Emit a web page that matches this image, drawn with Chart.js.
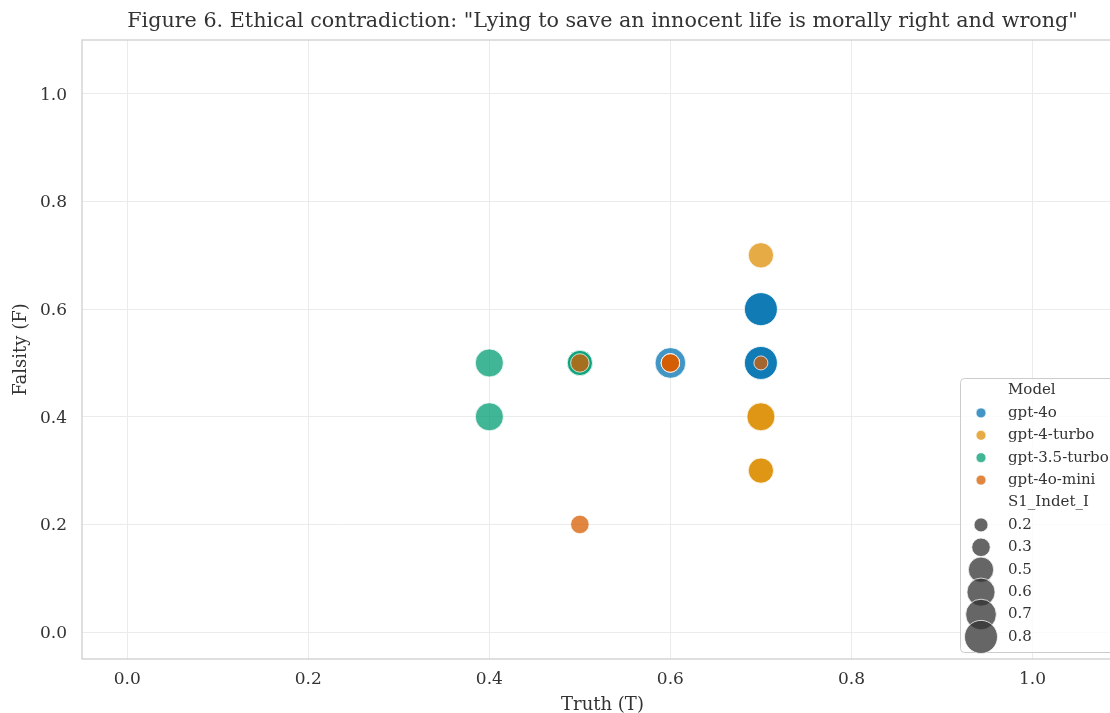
<!DOCTYPE html>
<html>
<head>
<meta charset="utf-8">
<script src="https://cdn.jsdelivr.net/npm/chart.js@4.4.1/dist/chart.umd.min.js"></script>
<style>
  html, body { margin: 0; padding: 0; background: #ffffff; overflow: hidden; }
  #wrap { width: 1110px; height: 713px; position: relative; }
</style>
</head>
<body>
<div id="wrap"><canvas id="c" width="1110" height="713"></canvas></div>
<script>
// ---- Data ----
const models = ["gpt-4o", "gpt-4-turbo", "gpt-3.5-turbo", "gpt-4o-mini"];
const modelColors = ["1,115,178", "222,143,5", "2,158,115", "213,94,0"];

// gpt-4o
const gpt4o_T = [0.7, 0.7, 0.7, 0.7, 0.6];
const gpt4o_F = [0.6, 0.6, 0.5, 0.5, 0.5];
const gpt4o_I = [0.8, 0.8, 0.8, 0.8, 0.7];
// gpt-4-turbo
const gpt4turbo_T = [0.7, 0.7, 0.7, 0.7, 0.7];
const gpt4turbo_F = [0.7, 0.4, 0.4, 0.3, 0.3];
const gpt4turbo_I = [0.5, 0.6, 0.6, 0.5, 0.5];
// gpt-3.5-turbo
const gpt35_T = [0.4, 0.4, 0.5, 0.5];
const gpt35_F = [0.5, 0.4, 0.5, 0.5];
const gpt35_I = [0.6, 0.6, 0.5, 0.5];
// gpt-4o-mini
const mini_T = [0.5, 0.6, 0.6, 0.6, 0.7, 0.5];
const mini_F = [0.5, 0.5, 0.5, 0.5, 0.5, 0.2];
const mini_I = [0.3, 0.3, 0.3, 0.3, 0.2, 0.3];

const sizeLegendValues = [0.2, 0.3, 0.5, 0.6, 0.7, 0.8];
const xTicks = [0.0, 0.2, 0.4, 0.6, 0.8, 1.0];
const yTicks = [0.0, 0.2, 0.4, 0.6, 0.8, 1.0];

const titleText = 'Figure 6. Ethical contradiction: "Lying to save an innocent life is morally right and wrong"';
const xTitle = "Truth (T)";
const yTitle = "Falsity (F)";
const sizeTitle = "S1_Indet_I";
const hueTitle = "Model";

// ---- Styling helpers ----
const FONT = "'DejaVu Serif', serif";
const ALPHA = 0.75;
const I_MIN = 0.2, I_MAX = 0.8;
const D_MIN = 15, D_MAX = 34;   // marker diameters in px (area-linear mapping)
function markerRadius(v) {
  const a = D_MIN * D_MIN + (D_MAX * D_MAX - D_MIN * D_MIN) * (v - I_MIN) / (I_MAX - I_MIN);
  return Math.sqrt(a) / 2 - 0.5;
}

const seriesT = [gpt4o_T, gpt4turbo_T, gpt35_T, mini_T];
const seriesF = [gpt4o_F, gpt4turbo_F, gpt35_F, mini_F];
const seriesI = [gpt4o_I, gpt4turbo_I, gpt35_I, mini_I];

const datasets = models.map((m, k) => ({
  label: m,
  data: seriesT[k].map((t, i) => ({ x: t, y: seriesF[k][i] })),
  backgroundColor: `rgba(${modelColors[k]},${ALPHA})`,
  borderColor: `rgba(255,255,255,${ALPHA})`,
  borderWidth: 1,
  pointRadius: ctx => markerRadius(seriesI[k][ctx.dataIndex]),
  pointHoverRadius: ctx => markerRadius(seriesI[k][ctx.dataIndex]),
  order: models.length - k
}));

// Plot box (the original figure's axes extend a little beyond the cropped right edge)
const AREA = { left: 82, right: 1123, top: 40, bottom: 659 };

const areaPlugin = {
  id: 'fixedArea',
  afterLayout(chart) {
    const ca = chart.chartArea;
    ca.left = AREA.left; ca.right = AREA.right; ca.top = AREA.top; ca.bottom = AREA.bottom;
    ca.width = AREA.right - AREA.left; ca.height = AREA.bottom - AREA.top;
    const x = chart.scales.x, y = chart.scales.y;
    x.left = AREA.left; x.right = AREA.right; x.width = ca.width;
    x.top = AREA.bottom; x.bottom = chart.height; x.height = chart.height - AREA.bottom;
    y.left = 0; y.right = AREA.left; y.width = AREA.left;
    y.top = AREA.top; y.bottom = AREA.bottom; y.height = ca.height;
    [x, y].forEach(s => { s.configure(); s._labelItems = null; s._gridLineItems = null; });
  }
};

const framePlugin = {
  id: 'frame',
  beforeDatasetsDraw(chart) {
    const { ctx, chartArea: a } = chart;
    ctx.save();
    ctx.strokeStyle = '#cccccc';
    ctx.lineWidth = 1.25;
    ctx.strokeRect(a.left, a.top, a.right - a.left, a.bottom - a.top);
    ctx.restore();
  },
  afterDraw(chart) {
    const { ctx, chartArea: a } = chart;
    ctx.save();
    ctx.font = `20.7px ${FONT}`;
    ctx.fillStyle = '#333333';
    ctx.textAlign = 'center';
    ctx.textBaseline = 'middle';
    ctx.fillText(titleText, (a.left + a.right) / 2, 22);
    ctx.restore();
  }
};

const legendPlugin = {
  id: 'customLegend',
  afterDraw(chart) {
    const { ctx } = chart;
    const bx = 960, by = 378, bw = 160, bh = 274;
    ctx.save();
    ctx.beginPath();
    ctx.roundRect(bx + 0.5, by + 0.5, bw, bh, 4);
    ctx.fillStyle = 'rgba(255,255,255,0.8)';
    ctx.fill();
    ctx.strokeStyle = '#cccccc';
    ctx.lineWidth = 1;
    ctx.stroke();

    ctx.font = `15px ${FONT}`;
    ctx.fillStyle = '#333333';
    ctx.textBaseline = 'middle';
    ctx.textAlign = 'left';
    const tx = 1008, mx = 981, y0 = 390.5, step = 22.4;
    let row = 0;
    ctx.fillText(hueTitle, tx, y0 + step * row++);
    models.forEach((m, k) => {
      const y = y0 + step * row++;
      ctx.beginPath();
      ctx.arc(mx, y, 5, 0, Math.PI * 2);
      ctx.fillStyle = `rgba(${modelColors[k]},${ALPHA})`;
      ctx.fill();
      ctx.strokeStyle = `rgba(255,255,255,${ALPHA})`;
      ctx.stroke();
      ctx.fillStyle = '#333333';
      ctx.fillText(m, tx, y);
    });
    ctx.fillText(sizeTitle, tx, y0 + step * row++);
    sizeLegendValues.forEach(v => {
      const y = y0 + step * row++;
      ctx.beginPath();
      ctx.arc(mx, y, markerRadius(v), 0, Math.PI * 2);
      ctx.fillStyle = `rgba(51,51,51,${ALPHA})`;
      ctx.fill();
      ctx.strokeStyle = `rgba(255,255,255,${ALPHA})`;
      ctx.lineWidth = 1;
      ctx.stroke();
      ctx.fillStyle = '#333333';
      ctx.fillText(v.toFixed(1), tx, y);
    });
    ctx.restore();
  }
};

new Chart(document.getElementById('c'), {
  type: 'scatter',
  data: { datasets },
  options: {
    responsive: false,
    animation: false,
    events: [],
    layout: { padding: { left: 0, right: 0, top: 40, bottom: 0 } },
    plugins: {
      legend: { display: false },
      tooltip: { enabled: false },
      title: { display: false }
    },
    scales: {
      x: {
        type: 'linear',
        min: -0.05, max: 1.1,
        afterBuildTicks: s => { s.ticks = xTicks.map(v => ({ value: v })); },
        afterFit: s => { s.height = 54; },
        ticks: {
          callback: v => Number(v).toFixed(1),
          color: '#333333',
          font: { family: FONT, size: 17 },
          padding: 10,
          maxRotation: 0
        },
        grid: { color: '#ebebeb', lineWidth: 1, drawTicks: false },
        border: { display: false },
        title: {
          display: true, text: xTitle, color: '#333333',
          font: { family: FONT, size: 18, lineHeight: 0.8 }, padding: { top: 0, bottom: 0 }
        }
      },
      y: {
        type: 'linear',
        min: -0.05, max: 1.1,
        afterBuildTicks: s => { s.ticks = yTicks.map(v => ({ value: v })); },
        afterFit: s => { s.width = 82; },
        ticks: {
          callback: v => Number(v).toFixed(1),
          color: '#333333',
          font: { family: FONT, size: 17 },
          padding: 15,
          labelOffset: 1.5
        },
        grid: { color: '#ebebeb', lineWidth: 1, drawTicks: false },
        border: { display: false },
        title: {
          display: true, text: yTitle, color: '#333333',
          font: { family: FONT, size: 18 }, padding: { top: 11, bottom: 0 }
        }
      }
    }
  },
  plugins: [areaPlugin, framePlugin, legendPlugin]
});
</script>
</body>
</html>
